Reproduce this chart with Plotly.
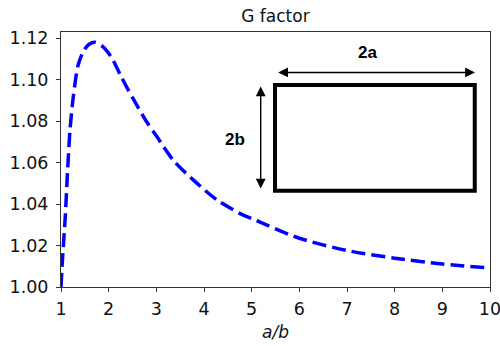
import plotly.graph_objects as go

# Data
ratio_ab = [1.00, 1.03, 1.09, 1.14, 1.19, 1.26, 1.36, 1.48, 1.59, 1.71, 1.87, 2.05,
            2.24, 2.41, 2.62, 2.80, 3.01, 3.36, 3.78, 4.27, 4.75, 5.1, 6.0, 7.0, 8.0, 9.0, 10.0]
g_factor = [1.000, 1.013, 1.034, 1.057, 1.076, 1.092, 1.107, 1.114, 1.117, 1.118, 1.116, 1.111,
            1.1025, 1.095, 1.0865, 1.0795, 1.0725, 1.061, 1.0515, 1.042, 1.0355, 1.032, 1.0235,
            1.0176, 1.0139, 1.0111, 1.0092]

x_ticks = [1, 2, 3, 4, 5, 6, 7, 8, 9, 10]
y_ticks = [1.00, 1.02, 1.04, 1.06, 1.08, 1.10, 1.12]

FONT = "DejaVu Sans"
TXT = "#111111"

fig = go.Figure()
fig.add_trace(go.Scatter(
    x=ratio_ab, y=g_factor, mode="lines",
    line=dict(color="#0000ff", width=3.5, dash="14px,6px", shape="spline", smoothing=0.8),
    showlegend=False, hoverinfo="skip",
))

# Inset diagram (rectangle with dimension arrows)
fig.add_shape(type="rect", xref="x", yref="y", x0=5.49, x1=9.68, y0=1.0464, y1=1.0974,
              line=dict(color="black", width=4))
arrow = dict(showarrow=True, text="", xref="x", yref="y", axref="x", ayref="y",
             arrowhead=2, startarrowhead=2, arrowside="end+start", arrowsize=1.4,
             startarrowsize=1.4, arrowwidth=1.4, arrowcolor="black", standoff=0, startstandoff=0)
fig.add_annotation(x=9.685, y=1.1034, ax=5.525, ay=1.1034, **arrow)
fig.add_annotation(x=5.19, y=1.0966, ax=5.19, ay=1.0467, **arrow)
fig.add_annotation(x=7.43, y=1.1130, text="<b>2a</b>", showarrow=False, xref="x", yref="y",
                   font=dict(family="Liberation Sans", size=17, color="black"))
fig.add_annotation(x=4.65, y=1.0709, text="<b>2b</b>", showarrow=False, xref="x", yref="y",
                   font=dict(family="Liberation Sans", size=17, color="black"))

axis_common = dict(showgrid=False, zeroline=False, showline=True, linecolor="#333",
                   linewidth=1, mirror=True, ticks="outside", ticklen=4, tickcolor="#333",
                   automargin=False, ticklabeloverflow="allow",
                   tickfont=dict(family=FONT, size=17.5, color=TXT))

fig.update_xaxes(range=[1, 10], tickvals=x_ticks, ticktext=[str(v) for v in x_ticks],
                 title=dict(text="<i>a/b</i>", font=dict(family=FONT, size=17, color=TXT), standoff=8),
                 ticklabelstandoff=2, **axis_common)
fig.update_yaxes(range=[1.0, 1.1229], tickvals=y_ticks, ticktext=[f"{v:.2f}" for v in y_ticks],
                 ticklabelstandoff=4, **axis_common)

fig.update_layout(
    width=500, height=346,
    margin=dict(l=61, r=10, t=32, b=59),
    paper_bgcolor="white", plot_bgcolor="white",
    title=dict(text="G factor", x=0.551, xanchor="center", y=0.955, yanchor="middle",
               font=dict(family=FONT, size=17, color=TXT)),
)

fig.write_html("out.html", config={"displayModeBar": False},
               post_script="document.body.style.margin='0';document.body.style.padding='0';")
